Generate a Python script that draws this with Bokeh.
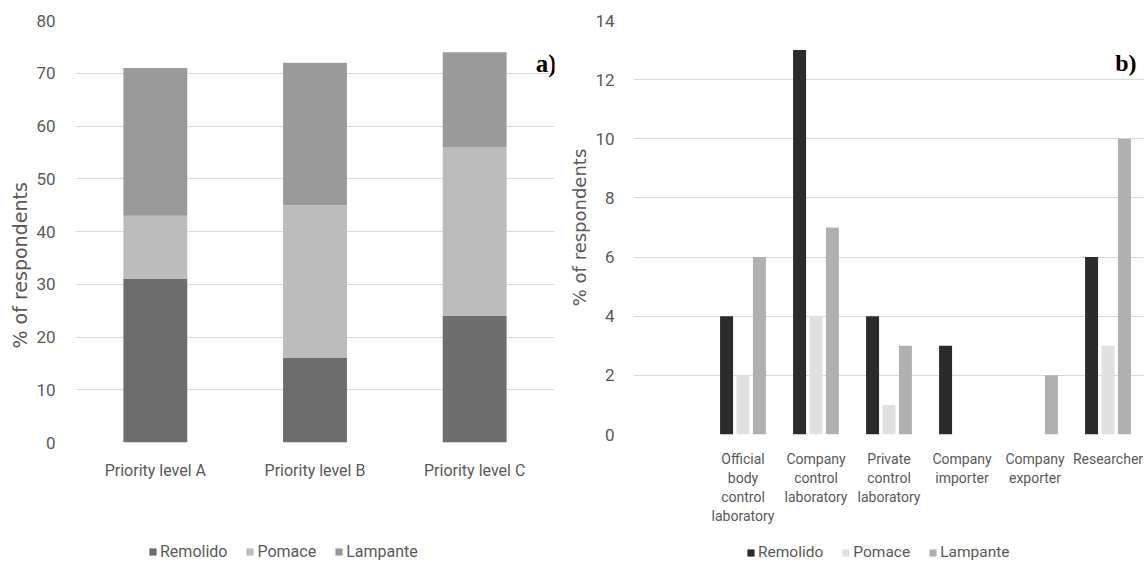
from bokeh.plotting import figure
from bokeh.models import ColumnDataSource, FactorRange, Range1d, Legend, LegendItem, Label, FixedTicker, Title
from bokeh.layouts import row, column
from bokeh.transform import dodge
from bokeh.embed import file_html
from bokeh.resources import INLINE

# ---- data: panel a (stacked) ----
levels = ["Priority level A", "Priority level B", "Priority level C"]
remolido_a = [31, 16, 24]
pomace_a = [12, 29, 32]
lampante_a = [28, 27, 18]
series = ["Remolido", "Pomace", "Lampante"]
colors_a = ["#6d6d6d", "#bcbcbc", "#9a9a9a"]
yticks_a = [0, 10, 20, 30, 40, 50, 60, 70, 80]

# ---- data: panel b (grouped) ----
groups = [" ", "Official\nbody\ncontrol\nlaboratory", "Company\ncontrol\nlaboratory",
          "Private\ncontrol\nlaboratory", "Company\nimporter", "Company\nexporter", "Researcher"]
remolido_b = [0, 4, 13, 4, 3, 0, 6]
pomace_b = [0, 2, 4, 1, 0, 0, 3]
lampante_b = [0, 6, 7, 3, 0, 2, 10]
colors_b = ["#2b2b2b", "#e0e0e0", "#b0b0b0"]
yticks_b = [0, 2, 4, 6, 8, 10, 12, 14]

TXT = "#595959"
FONT = "Roboto"
TFONT = "DejaVu Sans"


def style(p, ticks, tick_size, cat_size):
    p.outline_line_color = None
    p.background_fill_color = "white"
    p.border_fill_color = "white"
    p.xgrid.grid_line_color = None
    p.ygrid.grid_line_color = "#d9d9d9"
    p.ygrid.grid_line_width = 1
    p.yaxis.ticker = FixedTicker(ticks=ticks)
    for ax in (p.xaxis[0], p.yaxis[0]):
        ax.axis_line_color = None
        ax.major_tick_line_color = None
        ax.minor_tick_line_color = None
        ax.major_label_text_color = TXT
        ax.major_label_text_font = FONT
    p.yaxis.major_label_text_font_size = tick_size
    p.xaxis.major_label_text_font_size = cat_size


def legend_fig(width, colors, x_off, fsize):
    # a small legend-only figure placed under each chart
    lf = figure(width=width, height=31, x_range=Range1d(0, 1), y_range=Range1d(0, 1),
                x_axis_location=None, y_axis_location=None,
                min_border_left=0, min_border_right=0, min_border_top=0, min_border_bottom=0,
                output_backend="svg", toolbar_location=None)
    lf.outline_line_color = None
    lf.grid.grid_line_color = None
    rs = [lf.vbar(x=[0], top=[0], width=0, color=c, line_color=None) for c in colors]
    leg = Legend(items=[LegendItem(label=s, renderers=[r]) for s, r in zip(series, rs)],
                 orientation="horizontal", location=(x_off, 0),
                 glyph_width=9, glyph_height=9, label_standoff=3, spacing=18,
                 padding=0, margin=0, border_line_color=None, background_fill_alpha=0,
                 label_text_font=FONT, label_text_font_size=fsize, label_text_color=TXT)
    lf.add_layout(leg, "center")
    return lf


# ---------- panel a ----------
src_a = ColumnDataSource(dict(level=levels, Remolido=remolido_a, Pomace=pomace_a, Lampante=lampante_a))
pa = figure(x_range=FactorRange(*levels), y_range=Range1d(0, 80),
            frame_width=479, frame_height=422,
            min_border_left=75, min_border_right=11, min_border_top=19, min_border_bottom=89,
            output_backend="svg", toolbar_location=None)
style(pa, yticks_a, "17px", "16px")
pa.yaxis.major_label_standoff = 14
pa.xaxis.major_label_standoff = 12
pa.vbar_stack(series, x="level", width=0.4, color=colors_a, source=src_a, line_color=None)

pa.add_layout(Title(text="% of respondents", align="left", offset=94,
                    text_font=TFONT, text_font_size="19px", text_font_style="normal",
                    text_color=TXT, standoff=6), "left")
pa.add_layout(Label(x=481, y=379, x_units="screen", y_units="screen", text="a)",
                    text_align="right", text_baseline="alphabetic",
                    text_font="Liberation Serif", text_font_style="bold",
                    text_font_size="25px", text_color="black"))

# ---------- panel b ----------
src_b = ColumnDataSource(dict(group=groups, Remolido=remolido_b, Pomace=pomace_b, Lampante=lampante_b))
pb = figure(x_range=FactorRange(*groups), y_range=Range1d(0, 14),
            frame_width=511, frame_height=414,
            min_border_left=68, min_border_right=0, min_border_top=20, min_border_bottom=96,
            output_backend="svg", toolbar_location=None)
style(pb, yticks_b, "17px", "14px")
pb.yaxis.major_label_standoff = 13
pb.xaxis.major_label_standoff = 10
pb.yaxis.axis_label = "% of respondents"
pb.yaxis.axis_label_standoff = 2
pb.yaxis.axis_label_text_font = TFONT
pb.yaxis.axis_label_text_font_size = "18px"
pb.yaxis.axis_label_text_font_style = "normal"
pb.yaxis.axis_label_text_color = TXT

for s, c, off in zip(series, colors_b, [-0.225, 0.0, 0.225]):
    pb.vbar(x=dodge("group", off, range=pb.x_range), top=s, width=0.178,
            color=c, line_color=None, source=src_b)

pb.add_layout(Label(x=503, y=372, x_units="screen", y_units="screen", text="b)",
                    text_align="right", text_baseline="alphabetic",
                    text_font="Liberation Serif", text_font_style="bold",
                    text_font_size="24px", text_color="black"))

la = legend_fig(565, colors_a, 148, "16px")
lb = legend_fig(579, colors_b, 181, "15.5px")

layout = column(row(pa, pb), row(la, lb))
open("out.html", "w").write(file_html(layout, INLINE))
